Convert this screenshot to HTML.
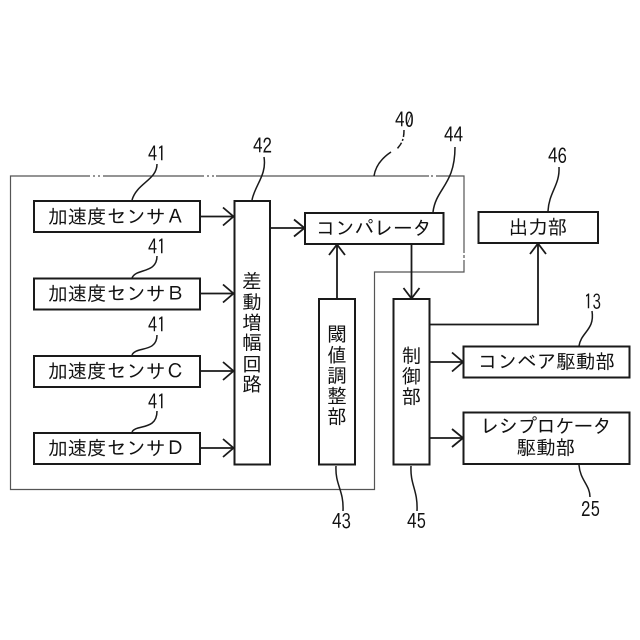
<!DOCTYPE html>
<html lang="ja">
<head>
<meta charset="utf-8">
<style>
html,body{margin:0;padding:0;background:#fff;width:640px;height:640px;overflow:hidden}
svg{display:block}
text{font-family:"IPAGothic","Noto Sans CJK JP","Liberation Sans",sans-serif;fill:#111}
.t{font-size:19.5px;text-anchor:middle}
.v{font-size:19.5px;text-anchor:middle}
.n{font-size:21px}
.b{fill:#fff;stroke:#1a1a1a;stroke-width:2}
.l{fill:none;stroke:#1a1a1a;stroke-width:1.8}
.a{fill:none;stroke:#1a1a1a;stroke-width:1.8}
.c{fill:none;stroke:#1a1a1a;stroke-width:1.5}
</style>
</head>
<body>
<svg width="640" height="640" viewBox="0 0 640 640" xmlns="http://www.w3.org/2000/svg">
<rect width="640" height="640" fill="#fff"/>

<!-- boundary 40 -->
<path d="M10.5 176H464V272H374.500V489.500H10.5Z" fill="none" stroke="#555" stroke-width="1.2"/>
<g stroke="#fff" stroke-width="2.4" fill="none">
<path d="M90 176h3M95 176h3M100 176h3M204 176h3M209 176h3M214 176h2M429 176h2M433 176h3M464 253v2M464 258v2"/>
</g>

<!-- boxes -->
<rect class="b" x="34" y="201" width="166" height="31"/>
<rect class="b" x="34" y="278.500" width="166" height="31"/>
<rect class="b" x="34" y="356" width="166" height="31"/>
<rect class="b" x="34" y="433" width="166" height="31"/>
<rect class="b" x="234.500" y="201" width="35.500" height="263.500"/>
<rect class="b" x="305" y="213" width="138.500" height="31"/>
<rect class="b" x="319" y="299" width="36" height="165.500"/>
<rect class="b" x="393.500" y="299" width="36" height="165.500"/>
<rect class="b" x="478.500" y="212" width="119.500" height="31"/>
<rect class="b" x="463.500" y="346.500" width="166" height="31"/>
<rect class="b" x="463.500" y="412.500" width="166" height="51.500"/>

<!-- connectors -->
<path class="l" d="M200 216.500H233M200 293.500H233M200 371H233M200 448H233"/>
<path class="a" d="M223 207.500L233.500 216.500L223 225.500M223 284.500L233.500 293.500L223 302.500M223 362L233.500 371L223 380M223 439L233.500 448L223 457"/>
<path class="l" d="M270 228H304"/>
<path class="a" d="M294 219.500L304.500 228L294 236.500"/>
<path class="l" d="M337 298V245"/>
<path class="a" d="M329 255L337 244.500L345 255"/>
<path class="l" d="M411.500 244V298"/>
<path class="a" d="M403.500 288L411.500 298.500L419.500 288"/>
<path class="l" d="M430 324.500H538V244"/>
<path class="a" d="M530 254L538 243.500L546 254"/>
<path class="l" d="M430 362H463"/>
<path class="a" d="M452 352.500L463 362L452 371.500"/>
<path class="l" d="M430 438H463"/>
<path class="a" d="M452 429L463 438L452 447"/>

<!-- leaders -->
<path class="c" d="M157 164C157 180 137 183 132 200"/>
<path class="c" d="M157 256C157 274 136 268 132 278"/>
<path class="c" d="M157 335C157 353 136 346 132 355"/>
<path class="c" d="M157 411C157 431 136 424 132 432"/>
<path class="c" d="M264 157C267 175 255 185 252 200"/>
<path class="c" d="M404 130C404 142 400 145 397 149" stroke-dasharray="7 2 2 2"/>
<path class="c" d="M391 152C385 156 376 163 374 176"/>
<path class="c" d="M455 147C455 185 436 188 433 212"/>
<path class="c" d="M559 167C560 185 549 192 548 211"/>
<path class="c" d="M592 311C595 330 581 332 579 346"/>
<path class="c" d="M336 466C335 485 344 490 343 511"/>
<path class="c" d="M411 466C410 485 418 490 417 511"/>
<path class="c" d="M579 465C580 480 590 485 590 497"/>

<!-- box labels -->
<text class="t" x="116.500" y="223.500" textLength="137" lengthAdjust="spacing">加速度センサＡ</text>
<text class="t" x="116.500" y="300.500" textLength="137" lengthAdjust="spacing">加速度センサＢ</text>
<text class="t" x="116.500" y="378" textLength="137" lengthAdjust="spacing">加速度センサＣ</text>
<text class="t" x="116.500" y="455" textLength="137" lengthAdjust="spacing">加速度センサＤ</text>
<text class="t" x="374" y="235" textLength="116" lengthAdjust="spacing">コンパレータ</text>
<text class="t" x="538" y="234">出力部</text>
<text class="t" x="546.500" y="368.500" textLength="137" lengthAdjust="spacing">コンベア駆動部</text>
<text class="t" x="546" y="433" textLength="132" lengthAdjust="spacing">レシプロケータ</text>
<text class="t" x="546" y="454.500">駆動部</text>

<text class="v" x="252" y="288">差</text>
<text class="v" x="252" y="309">動</text>
<text class="v" x="252" y="329.500">増</text>
<text class="v" x="252" y="349.500">幅</text>
<text class="v" x="252" y="371">回</text>
<text class="v" x="252" y="391">路</text>

<text class="v" x="337" y="341">閾</text>
<text class="v" x="337" y="362">値</text>
<text class="v" x="337" y="382.500">調</text>
<text class="v" x="337" y="403">整</text>
<text class="v" x="337" y="423.500">部</text>

<text class="v" x="411.500" y="362.500">制</text>
<text class="v" x="411.500" y="383">御</text>
<text class="v" x="411.500" y="403.500">部</text>

<!-- numbers -->
<text class="n" x="148" y="161.500" textLength="18" lengthAdjust="spacingAndGlyphs">41</text>
<text class="n" x="148" y="254.500" textLength="18" lengthAdjust="spacingAndGlyphs">41</text>
<text class="n" x="148" y="332.500" textLength="18" lengthAdjust="spacingAndGlyphs">41</text>
<text class="n" x="148" y="409.500" textLength="18" lengthAdjust="spacingAndGlyphs">41</text>
<text class="n" x="253" y="153.500" textLength="19" lengthAdjust="spacingAndGlyphs">42</text>
<text class="n" x="395" y="127.500" textLength="19" lengthAdjust="spacingAndGlyphs">40</text>
<text class="n" x="444" y="142.500" textLength="19" lengthAdjust="spacingAndGlyphs">44</text>
<text class="n" x="548" y="163.500" textLength="19" lengthAdjust="spacingAndGlyphs">46</text>
<text class="n" x="584" y="309.500" textLength="17" lengthAdjust="spacingAndGlyphs">13</text>
<text class="n" x="332" y="529" textLength="19" lengthAdjust="spacingAndGlyphs">43</text>
<text class="n" x="407" y="529" textLength="19" lengthAdjust="spacingAndGlyphs">45</text>
<text class="n" x="581" y="517" textLength="19" lengthAdjust="spacingAndGlyphs">25</text>
</svg>
</body>
</html>
